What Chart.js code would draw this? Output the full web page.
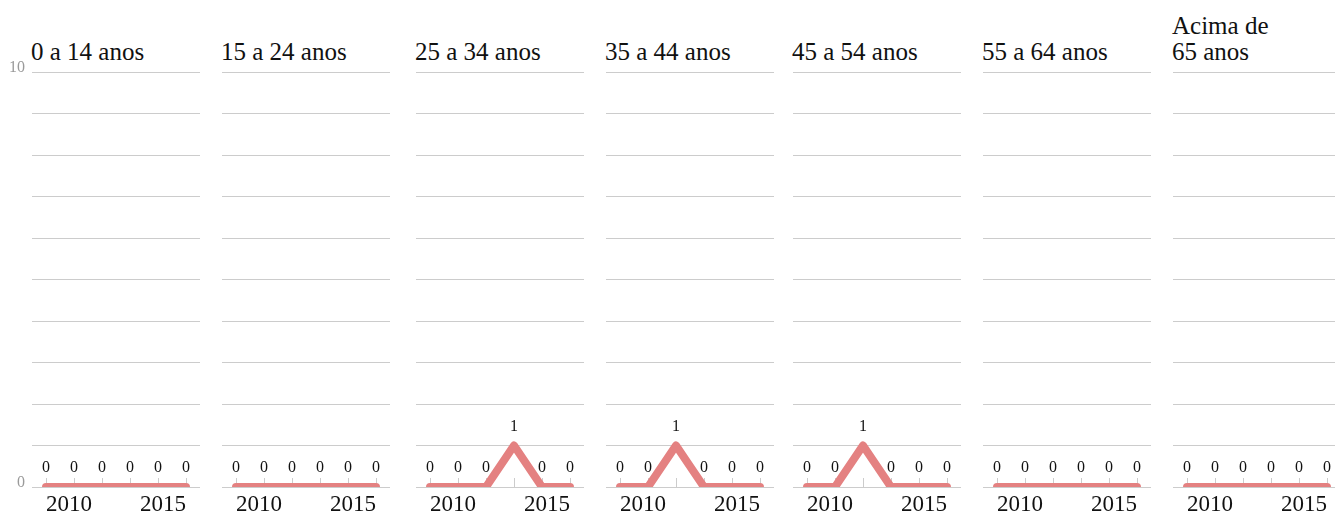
<!DOCTYPE html>
<html>
<head>
<meta charset="utf-8">
<script src="https://cdn.jsdelivr.net/npm/chart.js@4/dist/chart.umd.min.js"></script>
<style>
  html, body { margin: 0; padding: 0; background: #fff; }
  body { width: 1335px; height: 516px; position: relative; overflow: hidden; }
  .panel-title {
    position: absolute;
    bottom: 451px;
    font-family: 'Liberation Serif', serif;
    font-size: 25px;
    line-height: 26px;
    color: #111;
    white-space: pre-line;
  }
  canvas { position: absolute; top: 0; }
</style>
</head>
<body>
<script>
// years on the x axis of every panel
const years = ['2010', '2011', '2012', '2013', '2014', '2015'];

// one panel per age group
const ageGroups = ['0 a 14 anos', '15 a 24 anos', '25 a 34 anos', '35 a 44 anos',
                   '45 a 54 anos', '55 a 64 anos', 'Acima de\n65 anos'];

const age0to14  = [0, 0, 0, 0, 0, 0];
const age15to24 = [0, 0, 0, 0, 0, 0];
const age25to34 = [0, 0, 0, 1, 0, 0];
const age35to44 = [0, 0, 1, 0, 0, 0];
const age45to54 = [0, 0, 1, 0, 0, 0];
const age55to64 = [0, 0, 0, 0, 0, 0];
const age65plus = [0, 0, 0, 0, 0, 0];

const seriesByGroup = [age0to14, age15to24, age25to34, age35to44, age45to54, age55to64, age65plus];

// y axis range and the only tick values that get a label
const yMin = 0;
const yMax = 10;
const yLabelled = [0, 10];

const plotLeft = [32, 222, 416, 606, 793, 983, 1173];
const plotWidth = 168;
const axisWidth = 32;
const lineColor = '#e48181';
const gridColor = '#cccccc';

// short tick marks pointing up from the baseline
const innerTicks = {
    id: 'innerTicks',
    beforeDatasetsDraw(chart) {
        const ctx = chart.ctx;
        const xScale = chart.scales.x;
        const bottom = chart.chartArea.bottom;
        ctx.save();
        ctx.strokeStyle = gridColor;
        ctx.lineWidth = 1;
        ctx.beginPath();
        xScale.ticks.forEach((t, i) => {
            const px = Math.round(xScale.getPixelForTick(i)) + 0.5;
            ctx.moveTo(px, bottom);
            ctx.lineTo(px, bottom - 9);
        });
        ctx.stroke();
        ctx.restore();
    }
};

// value written above each point
const valueLabels = {
    id: 'valueLabels',
    afterDatasetsDraw(chart) {
        const ctx = chart.ctx;
        const meta = chart.getDatasetMeta(0);
        const values = chart.data.datasets[0].data;
        ctx.save();
        ctx.font = '16px "Liberation Serif", serif';
        ctx.fillStyle = '#111';
        ctx.textAlign = 'center';
        ctx.textBaseline = 'middle';
        meta.data.forEach((pt, i) => {
            ctx.fillText(String(values[i]), pt.x, pt.y - 19);
        });
        ctx.restore();
    }
};

ageGroups.forEach((group, idx) => {
    const first = idx === 0;

    const title = document.createElement('div');
    title.className = 'panel-title';
    title.style.left = (plotLeft[idx] - 1) + 'px';
    title.textContent = group;
    document.body.appendChild(title);

    const canvas = document.createElement('canvas');
    const w = plotWidth + (first ? axisWidth : 0);
    canvas.width = w;
    canvas.height = 516;
    canvas.style.width = w + 'px';
    canvas.style.height = '516px';
    canvas.style.left = (plotLeft[idx] - (first ? axisWidth : 0)) + 'px';
    document.body.appendChild(canvas);

    new Chart(canvas.getContext('2d'), {
        type: 'line',
        data: {
            labels: years,
            datasets: [{
                data: seriesByGroup[idx],
                borderColor: lineColor,
                borderWidth: 8,
                borderCapStyle: 'round',
                borderJoinStyle: 'round',
                pointRadius: 0,
                tension: 0,
                fill: false
            }]
        },
        options: {
            responsive: false,
            animation: false,
            devicePixelRatio: 1,
            layout: { padding: { top: 72, left: 0, right: 0, bottom: 0 } },
            plugins: {
                legend: { display: false },
                tooltip: { enabled: false }
            },
            scales: {
                x: {
                    type: 'category',
                    offset: true,
                    grid: { display: false, drawTicks: false },
                    border: { display: false },
                    ticks: {
                        autoSkip: false,
                        maxRotation: 0,
                        align: 'inner',
                        padding: 4,
                        color: '#111',
                        font: { family: "'Liberation Serif', serif", size: 23 },
                        callback: (v, i) => (i === 0 || i === years.length - 1) ? years[i] : ''
                    },
                    afterFit: (scale) => { scale.height = 29; }
                },
                y: {
                    min: yMin,
                    max: yMax,
                    grid: { color: gridColor, lineWidth: 1, drawTicks: false },
                    border: { display: false },
                    ticks: {
                        display: first,
                        stepSize: 1,
                        padding: 7,
                        labelOffset: -4,
                        color: '#9a9a9a',
                        font: { family: "'Liberation Serif', serif", size: 16 },
                        callback: (v) => yLabelled.includes(v) ? String(v) : ''
                    },
                    afterFit: (scale) => { scale.width = first ? axisWidth : 0; }
                }
            }
        },
        plugins: [innerTicks, valueLabels]
    });
});
</script>
</body>
</html>
